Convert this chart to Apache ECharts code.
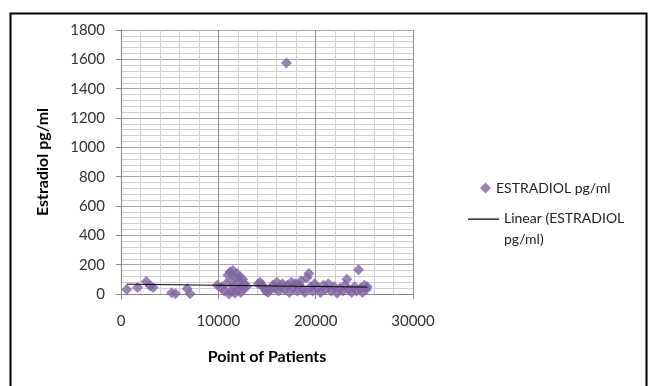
<!DOCTYPE html>
<html>
<head>
<meta charset="utf-8">
<script src="https://cdn.jsdelivr.net/npm/echarts@6/dist/echarts.min.js"></script>
<style>html,body{margin:0;padding:0;background:#fff;}#c{width:652px;height:386px;}</style>
</head>
<body>
<div id="c"></div>
<script>
// Patient point (x) and estradiol value pg/ml (y)
var patientX = [600,1700,2600,3000,3300,5200,5600,6800,7100,
  9900,10300,10600,10800,11000,11100,11200,11300,11400,11500,11600,11700,11800,11900,12000,12100,12200,12300,12400,12500,12600,12700,12900,
  14100,14300,14500,14700,14900,15100,15300,
  15600,15800,16000,16200,16400,16600,16800,17000,17100,17300,17500,17700,17900,18100,18300,18500,18700,18900,19100,19300,19500,19700,19900,
  20200,20500,20800,21000,21300,21600,21900,22200,22500,22800,23000,23200,23400,23700,24000,24200,24400,24600,24800,25000,25200,25300];
var estradiol = [30,45,85,55,45,8,2,35,2,
  60,45,20,70,130,0,150,20,90,160,50,5,110,140,30,80,120,10,60,100,40,70,50,
  70,80,60,40,20,10,30,
  60,40,80,20,55,70,30,1575,60,10,80,45,70,20,60,90,30,10,110,140,50,20,70,
  40,10,60,30,70,20,50,5,40,20,60,100,30,10,50,20,165,40,10,60,30,50];
// Linear trend line endpoints
var trendX = [600, 25300];
var trendY = [67, 47];
var seriesName = 'ESTRADIOL pg/ml';
var trendName = 'Linear (ESTRADIOL pg/ml)';

var pts = patientX.map(function(x,i){return [x, estradiol[i]];});
var trend = trendX.map(function(x,i){return [x, trendY[i]];});
var font = 'Lato, "Liberation Sans", sans-serif';

var chart = echarts.init(document.getElementById('c'), null, {renderer:'canvas'});
chart.setOption({
  animation:false,
  backgroundColor:'#fff',
  grid:{left:121, right:239, top:30, bottom:92, containLabel:false},
  xAxis:{
    type:'value', min:0, max:30000, interval:10000,
    name:'Point of Patients', nameLocation:'middle', nameGap:55,
    nameTextStyle:{fontFamily:font, fontWeight:'bold', fontSize:16, color:'#000'},
    axisLine:{show:true, onZero:false, lineStyle:{color:'#868686', width:1}},
    axisTick:{show:true, length:5, lineStyle:{color:'#868686'}},
    axisLabel:{fontFamily:font, fontSize:15, color:'#333', margin:20, formatter:function(v){return String(v);}},
    splitLine:{show:true, lineStyle:{color:'#8c8c8c', width:1}},
    minorTick:{show:false, splitNumber:5},
    minorSplitLine:{show:true, lineStyle:{color:'#d0d0d0', width:1}}
  },
  yAxis:{
    type:'value', min:0, max:1800, interval:200,
    name:'Estradiol pg/ml', nameLocation:'middle', nameGap:70, nameRotate:90,
    nameTextStyle:{fontFamily:font, fontWeight:'bold', fontSize:16, color:'#000'},
    axisLine:{show:true, lineStyle:{color:'#868686', width:1}},
    axisTick:{show:true, length:5, lineStyle:{color:'#868686'}},
    axisLabel:{fontFamily:font, fontSize:15, color:'#333', margin:16, formatter:function(v){return String(v);}},
    splitLine:{show:true, lineStyle:{color:'#a6a6a6', width:1}},
    minorTick:{show:false, splitNumber:5},
    minorSplitLine:{show:true, lineStyle:{color:'#d0d0d0', width:1}}
  },
  legend:[{
    data:[{name:seriesName, icon:'diamond'}],
    left:475, top:176, itemWidth:11, itemHeight:11, itemGap:8,
    textStyle:{fontFamily:font, fontSize:14, color:'#222'}
  },{
    data:[{name:trendName, icon:'path://M0,0L31,0L31,1.2L0,1.2Z M0,20.9L0.02,20.9L0.02,21L0,21Z'}],
    left:463, top:203, itemWidth:31, itemHeight:21, itemGap:4, symbolKeepAspect:false,
    formatter:function(n){return 'Linear (ESTRADIOL\npg/ml)';},
    textStyle:{fontFamily:font, fontSize:14, color:'#222', lineHeight:21}
  }],
  graphic:[{
    type:'rect', left:8, top:11, shape:{x:0,y:0,width:636,height:385},
    style:{fill:null, stroke:'#000', lineWidth:2}, silent:true
  }],
  series:[{
    name:seriesName, type:'scatter', symbol:'diamond', symbolSize:11,
    itemStyle:{color:'#8064A2'}, data:pts, z:3
  },{
    name:trendName, type:'line', data:trend, symbol:'none',
    lineStyle:{color:'#000', width:1}, itemStyle:{color:'#000'}, z:4
  }]
});
</script>
</body>
</html>
